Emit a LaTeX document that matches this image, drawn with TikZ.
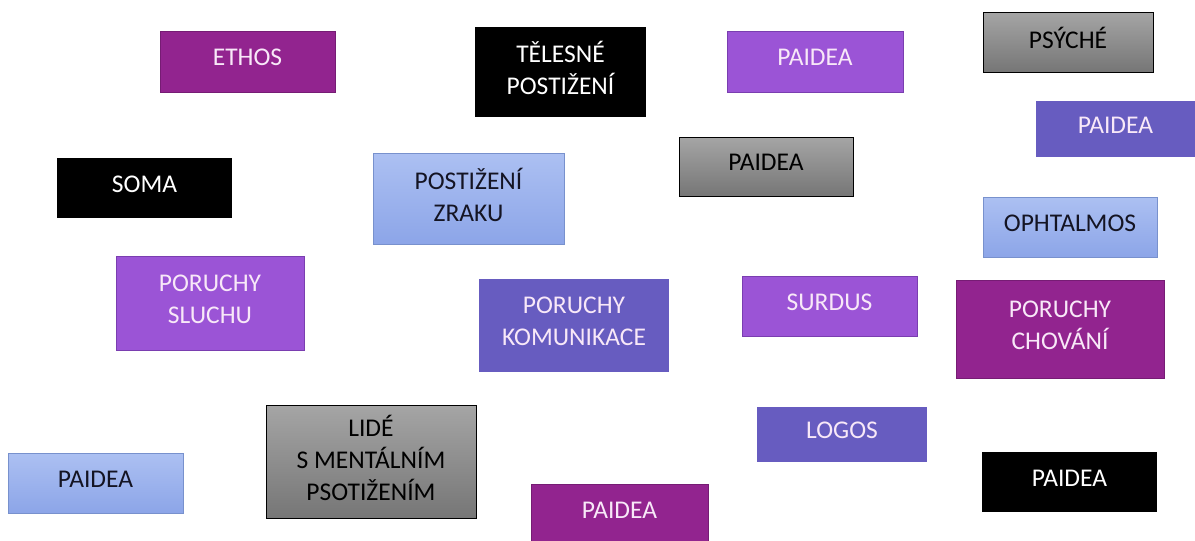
\documentclass[tikz,border=0pt]{standalone}
\usepackage{fontspec}
\setmainfont{Carlito}
\definecolor{dpurple}{RGB}{146,36,143}
\definecolor{dpurpleb}{RGB}{118,28,116}
\definecolor{mpurple}{RGB}{155,84,214}
\definecolor{mpurpleb}{RGB}{122,62,176}
\definecolor{slate}{RGB}{103,92,192}
\definecolor{lbtop}{RGB}{172,192,242}
\definecolor{lbbot}{RGB}{140,165,232}
\definecolor{lbb}{RGB}{120,145,205}
\definecolor{gtop}{RGB}{165,165,165}
\definecolor{gbot}{RGB}{118,118,118}
\definecolor{lighttxt}{RGB}{248,232,248}
\definecolor{darktxt}{RGB}{20,20,35}
\tikzset{
  box/.style={rectangle, inner sep=0pt, align=center, text depth=8pt,
    font=\fontsize{25.5}{32}\selectfont},
  bdark/.style={box, fill=dpurple, draw=dpurpleb, line width=1pt, text=lighttxt},
  bmed/.style={box, fill=mpurple, draw=mpurpleb, line width=1pt, text=lighttxt},
  bslate/.style={box, fill=slate, text=lighttxt},
  bblack/.style={box, fill=black, text=white},
  bblue/.style={box, top color=lbtop, bottom color=lbbot, draw=lbb, line width=0.6pt, text=darktxt},
  bgray/.style={box, top color=gtop, bottom color=gbot, draw=black, line width=1pt, text=black},
}
\begin{document}
\begin{tikzpicture}[x=1pt,y=-1pt]
\useasboundingbox (0,0) rectangle (1195,541);
\node[bdark, minimum width=175pt, minimum height=61pt] (ethos) at (247.5,61.5) {ETHOS};
\node[bblack, minimum width=171pt, minimum height=90pt] (telesne) at (560.5,72) {TĚLESNÉ\\POSTIŽENÍ};
\node[bmed, minimum width=176pt, minimum height=61pt] (paidea1) at (815,61.5) {PAIDEA};
\node[bgray, minimum width=170pt, minimum height=60pt] (psyche) at (1068,42) {PSÝCHÉ};
\node[bslate, minimum width=159pt, minimum height=56pt] (paidea2) at (1115.5,129) {PAIDEA};
\node[bblack, minimum width=175pt, minimum height=60pt] (soma) at (144.5,188) {SOMA};
\node[bblue, minimum width=191pt, minimum height=91pt] (zrak) at (468.5,198.5) {POSTIŽENÍ\\ZRAKU};
\node[bgray, minimum width=174pt, minimum height=59pt] (paidea3) at (766,166.5) {PAIDEA};
\node[bblue, minimum width=174pt, minimum height=60pt] (ophtalmos) at (1070,227) {OPHTALMOS};
\node[bmed, minimum width=188pt, minimum height=94pt] (sluch) at (210,303) {PORUCHY\\SLUCHU};
\node[bslate, minimum width=190pt, minimum height=93pt] (komunikace) at (574,325.5) {PORUCHY\\KOMUNIKACE};
\node[bmed, minimum width=175pt, minimum height=60pt] (surdus) at (829.5,306) {SURDUS};
\node[bdark, minimum width=208pt, minimum height=98pt] (chovani) at (1060,329) {PORUCHY\\CHOVÁNÍ};
\node[bslate, minimum width=170pt, minimum height=55pt] (logos) at (842,434.5) {LOGOS};
\node[bblue, minimum width=175pt, minimum height=60pt] (paidea4) at (95.5,483) {PAIDEA};
\node[bgray, minimum width=210pt, minimum height=113pt] (lide) at (371,461.5) {LIDÉ\\S MENTÁLNÍM\\PSOTIŽENÍM};
\node[bdark, minimum width=177pt, minimum height=60pt] (paidea5) at (619.5,514) {PAIDEA};
\node[bblack, minimum width=175pt, minimum height=60pt] (paidea6) at (1069.5,482) {PAIDEA};
\end{tikzpicture}
\end{document}
